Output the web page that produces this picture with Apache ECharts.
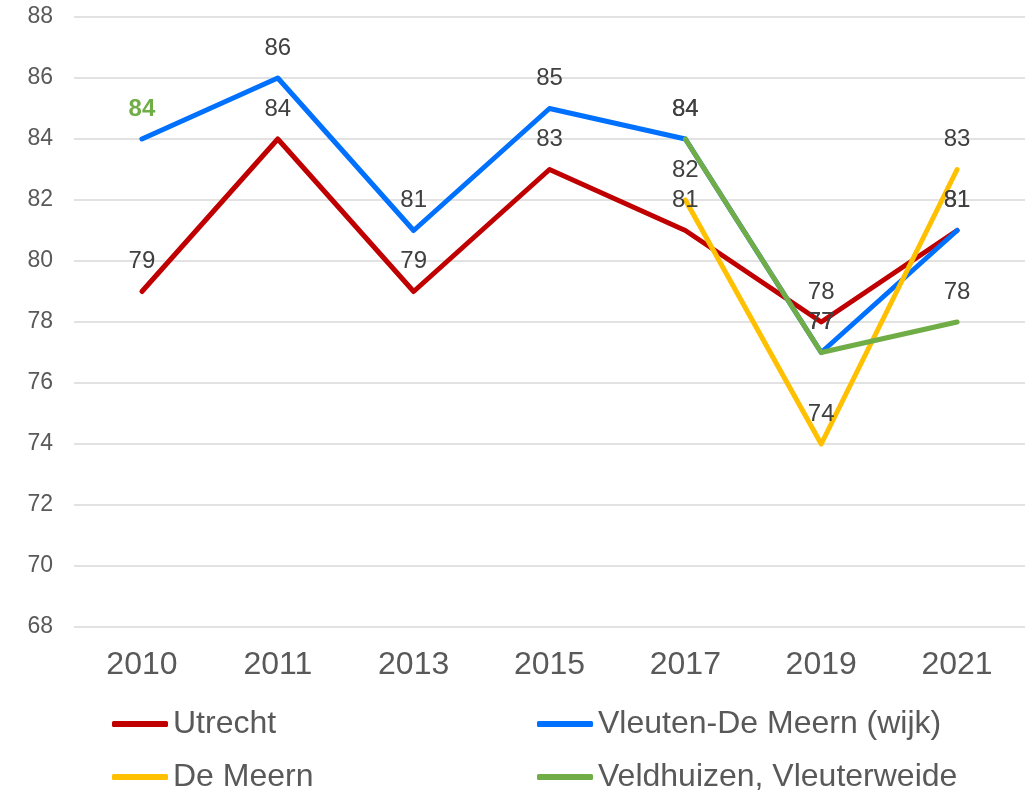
<!DOCTYPE html>
<html>
<head>
<meta charset="utf-8">
<script src="https://cdn.jsdelivr.net/npm/echarts@6/dist/echarts.min.js"></script>
<style>
html,body{margin:0;padding:0;background:#fff;}
#chart{width:1030px;height:790px;}
</style>
</head>
<body>
<div id="chart"></div>
<script>
const categories = ['2010', '2011', '2013', '2015', '2017', '2019', '2021'];
const utrecht = [79, 84, 79, 83, 81, 78, 81];
const vleutenDeMeern = [84, 86, 81, 85, 84, 77, 81];
const deMeern = [null, null, null, null, 82, 74, 83];
const veldhuizen = [84, null, null, null, 84, 77, 78];
const seriesNames = ['Utrecht', 'Vleuten-De Meern (wijk)', 'De Meern', 'Veldhuizen, Vleuterweide'];
const colors = ['#C00000', '#0070FF', '#FFC000', '#70AD47'];
const yMin = 68, yMax = 88, yStep = 2;

const FONT = '"Liberation Sans", Arial, sans-serif';

function mkSeries(name, data, color, opts) {
  opts = opts || {};
  return {
    name: name,
    type: 'line',
    data: data.map((v, i) => {
      if (v === null) return null;
      const item = { value: v };
      if (opts.hideLabel && opts.hideLabel.includes(i)) item.label = { show: false };
      if (opts.boldLabel && opts.boldLabel.includes(i)) item.label = { color: color, fontWeight: 'bold' };
      return item;
    }),
    connectNulls: false,
    symbol: 'circle',
    symbolSize: 0,
    showSymbol: true,
    lineStyle: { color: color, width: 5, cap: 'round', join: 'round' },
    itemStyle: { color: color },
    label: {
      show: true,
      position: 'top',
      distance: 18,
      color: '#404040',
      fontSize: 24,
      fontFamily: FONT
    },
    emphasis: { disabled: true },
    animation: false
  };
}

const chart = echarts.init(document.getElementById('chart'), null, { renderer: 'canvas' });

const legendPos = [
  { left: 107, top: 703 },
  { left: 532, top: 703 },
  { left: 107, top: 756 },
  { left: 532, top: 756 }
];

chart.setOption({
  backgroundColor: '#ffffff',
  animation: false,
  grid: { left: 74, right: 5, top: 17, bottom: 163, containLabel: false },
  legend: seriesNames.map((n, i) => ({
    data: [n],
    left: legendPos[i].left,
    top: legendPos[i].top,
    icon: 'roundRect',
    itemWidth: 56,
    itemHeight: 6,
    itemGap: 0,
    textStyle: { fontSize: 32, color: '#595959', fontFamily: FONT },
    selectedMode: false
  })),
  xAxis: {
    type: 'category',
    data: categories,
    boundaryGap: true,
    axisLine: { show: false },
    axisTick: { show: false },
    axisLabel: { fontSize: 32, color: '#595959', fontFamily: FONT, margin: 22 }
  },
  yAxis: {
    type: 'value',
    min: yMin,
    max: yMax,
    interval: yStep,
    axisLine: { show: false },
    axisTick: { show: false },
    axisLabel: { fontSize: 23, color: '#595959', fontFamily: FONT, margin: 21 },
    splitLine: { lineStyle: { color: '#D9D9D9', width: 1.5 } }
  },
  series: [
    mkSeries(seriesNames[0], utrecht, colors[0]),
    mkSeries(seriesNames[1], vleutenDeMeern, colors[1], { hideLabel: [0] }),
    mkSeries(seriesNames[2], deMeern, colors[2]),
    mkSeries(seriesNames[3], veldhuizen, colors[3], { boldLabel: [0] })
  ]
});
</script>
</body>
</html>
